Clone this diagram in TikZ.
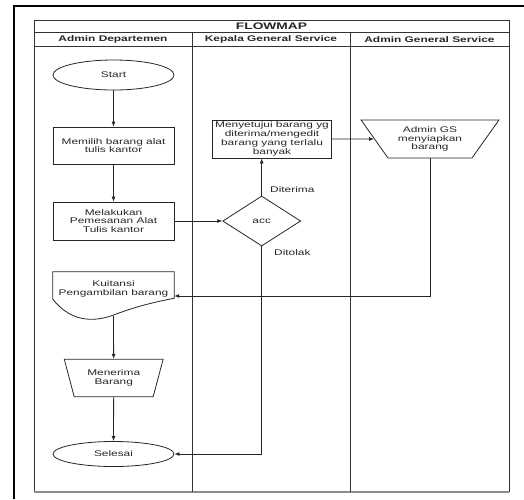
\documentclass[tikz,border=0pt]{standalone}
\usepackage{fontspec}
\setmainfont{Liberation Sans}[FakeStretch=1.45]
\usetikzlibrary{shapes.geometric,arrows.meta}
\begin{document}
\begin{tikzpicture}[x=1pt,y=-1pt,
  txt/.style={font=\fontsize{8.2}{8.8}\selectfont,align=center,text=black!85},
  boxst/.style={txt,draw=black!85,line width=0.8pt,inner sep=1pt},
  procbox/.style={boxst,rectangle,minimum width=121pt,minimum height=37pt},
  termst/.style={boxst,ellipse,minimum width=121pt,inner sep=0pt},
  manop/.style={boxst,trapezium,trapezium stretches=true,shape border rotate=180,inner sep=0pt},
  conn/.style={draw=black!85,line width=0.8pt},
  arr/.style={conn,-{Latex[length=5pt,width=4pt]}},
  lbl/.style={txt,anchor=west,inner sep=0pt},
  hdr/.style={font=\bfseries\fontsize{8.2}{9}\selectfont,text=black!85,inner sep=0pt}
]
\useasboundingbox (0,0) rectangle (524,499);
% outer frame
\draw[black,line width=1.3pt] (14,499) -- (14,6) -- (524,6);
% table
\draw[black!80,line width=0.8pt] (34,492) -- (34,20) -- (509,20) -- (509,492);
\draw[black!45,line width=1.5pt] (34,492) -- (509,492);
\draw[black!80,line width=0.8pt] (34,32) -- (509,32) (34,46) -- (509,46)
  (192,32) -- (192,492) (350,32) -- (350,492);
\node[hdr,font=\bfseries\fontsize{9.5}{10}\selectfont] (title) at (271.5,26) {FLOWMAP};
\node[hdr] (lane1) at (113,39.5) {Admin Departemen};
\node[hdr] (lane2) at (271,39.5) {Kepala General Service};
\node[hdr] (lane3) at (429.5,39.5) {Admin General Service};

% nodes
\node[termst,minimum height=30pt] (start) at (113.5,75) {Start};
\node[procbox] (pilih) at (113.5,145.5) {Memilih barang alat\\tulis kantor};
\node[procbox,minimum height=38pt] (pesan) at (113.5,221) {Melakukan\\Pemesanan Alat\\Tulis kantor};
\node[boxst,diamond,minimum width=78pt,minimum height=50pt,inner sep=0pt] (acc) at (261.7,221) {acc};
\node[boxst,rectangle,minimum width=119pt,minimum height=38pt] (setuju) at (272,139) {Menyetujui barang yg\\diterima/mengedit\\barang yang terlalu\\banyak};
\node[manop,minimum width=138pt,minimum height=38pt,trapezium left angle=50.8,trapezium right angle=50.8] (admgs) at (430,139) {Admin GS\\menyiapkan\\barang};
\node[txt,rectangle,minimum width=121pt,minimum height=34pt,inner sep=0pt] (kuit) at (113.5,289) {Kuitansi\\Pengambilan barang};
\draw[draw=black!85,line width=0.8pt] ([yshift=7pt]kuit.south west) -- (kuit.north west) -- (kuit.north east) -- ([yshift=8pt]kuit.south east)
  .. controls (150,303) and (135,307) .. (113.5,315)
  .. controls (92,323) and (70,321) .. ([yshift=7pt]kuit.south west);
\coordinate (kb) at (113.5,316);
\node[manop,minimum width=99pt,minimum height=37.4pt,trapezium left angle=68,trapezium right angle=68] (terima) at (113.7,378) {Menerima\\Barang};
\node[termst,minimum height=25pt] (selesai) at (113.5,454) {Selesai};

% labels
\node[lbl] (lditerima) at (270,190) {Diterima};
\node[lbl] (lditolak) at (274,253) {Ditolak};

% connectors
\draw[arr] (start) -- (pilih);
\draw[arr] (pilih) -- (pesan);
\draw[arr] (pesan) -- (acc);
\draw[arr] (acc.north) -- (acc.north |- setuju.south);
\draw[arr] (setuju.east) -- (admgs);
\coordinate (c1) at (430,296);
\coordinate (gsb) at (430,158);
\draw[arr] (gsb) -- (c1) -- (c1 -| kuit.east);
\draw[arr] (kb) -- (terima);
\draw[arr] (terima) -- (selesai);
\coordinate (c2) at (261.7,454);
\draw[arr] (acc.south) -- (c2) -- (selesai.east);
\end{tikzpicture}
\end{document}
